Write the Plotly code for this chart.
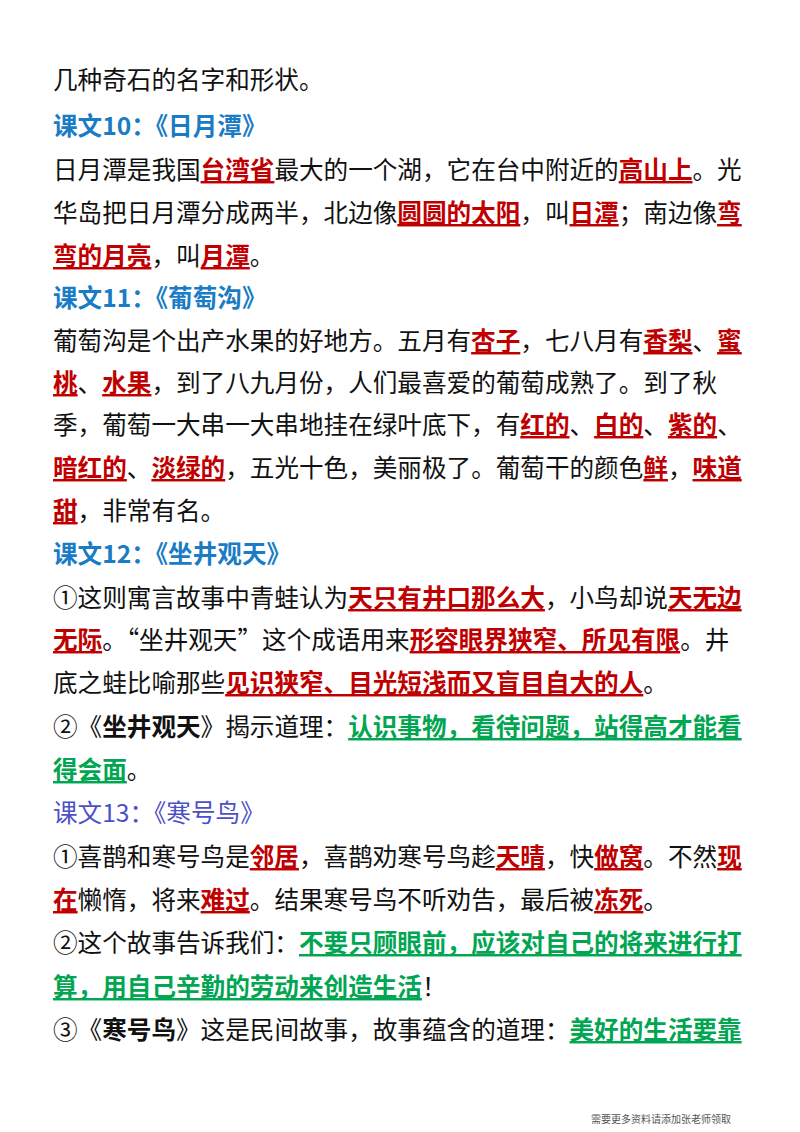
import re
import plotly.graph_objects as go

# Text lines ({...} red key words, [...] green key sentences, <b> bold black)
lines = [
    "几种奇石的名字和形状。",
    "课文10：《日月潭》",
    "日月潭是我国{台湾省}最大的一个湖，它在台中附近的{高山上}。光",
    "华岛把日月潭分成两半，北边像{圆圆的太阳}，叫{日潭}；南边像{弯",
    "弯的月亮}，叫{月潭}。",
    "课文11：《葡萄沟》",
    "葡萄沟是个出产水果的好地方。五月有{杏子}，七八月有{香梨}、{蜜",
    "桃}、{水果}，到了八九月份，人们最喜爱的葡萄成熟了。到了秋",
    "季，葡萄一大串一大串地挂在绿叶底下，有{红的}、{白的}、{紫的}、",
    "{暗红的}、{淡绿的}，五光十色，美丽极了。葡萄干的颜色{鲜}，{味道",
    "甜}，非常有名。",
    "课文12：《坐井观天》",
    "①这则寓言故事中青蛙认为{天只有井口那么大}，小鸟却说{天无边",
    "无际}。“坐井观天”这个成语用来{形容眼界狭窄、所见有限}。井",
    "底之蛙比喻那些{见识狭窄、目光短浅而又盲目自大的人}。",
    "②《<b>坐井观天</b>》揭示道理：[认识事物，看待问题，站得高才能看",
    "得会面]。",
    "课文13：《寒号鸟》",
    "①喜鹊和寒号鸟是{邻居}，喜鹊劝寒号鸟趁{天晴}，快{做窝}。不然{现",
    "在}懒惰，将来{难过}。结果寒号鸟不听劝告，最后被{冻死}。",
    "②这个故事告诉我们：[不要只顾眼前，应该对自己的将来进行打",
    "算，用自己辛勤的劳动来创造生活]！",
    "③《<b>寒号鸟</b>》这是民间故事，故事蕴含的道理：[美好的生活要靠",
]
line_y = [70, 116, 160, 203, 246, 288, 331, 373, 415, 458, 501, 544,
          588, 630, 673, 717, 760, 803, 847, 890, 933, 977, 1020]
headings = {1: "#1a7cc4", 5: "#1a7cc4", 11: "#1a7cc4", 17: "#4b4fc8"}
footer = "需要更多资料请添加张老师领取"

RED = "#c00000"
GREEN = "#00a651"

def fix_unclosed(s):
    if s.count("{") > s.count("}"):
        s = s + "}"
    if s.count("}") > s.count("{"):
        s = "{" + s
    if s.count("[") > s.count("]"):
        s = s + "]"
    if s.count("]") > s.count("["):
        s = "[" + s
    return s

def markup(s):
    s = fix_unclosed(s)
    s = re.sub(r"\{([^}]*)\}",
               lambda m: f"<span style='color:{RED};text-decoration:underline'><b>{m.group(1)}</b></span>", s)
    s = re.sub(r"\[([^\]]*)\]",
               lambda m: f"<span style='color:{GREEN};text-decoration:underline'><b>{m.group(1)}</b></span>", s)
    return s

fig = go.Figure()
anns = []
for i, (t, y) in enumerate(zip(lines, line_y)):
    if i in headings:
        txt = f"<b>{t}</b>" if i != 17 else t
        color = headings[i]
    else:
        txt = markup(t)
        color = "#111111"
    anns.append(dict(x=43, y=y, xref="x", yref="y", text=txt, showarrow=False,
                     xanchor="left", yanchor="middle",
                     font=dict(family="Noto Sans CJK SC", size=24.6, color=color)))
anns.append(dict(x=725, y=1110, xref="x", yref="y", text=footer, showarrow=False,
                 xanchor="right", yanchor="middle",
                 font=dict(family="Noto Sans CJK SC", size=10, color="#555555")))
fig.update_layout(
    width=800, height=1132, margin=dict(l=0, r=0, t=0, b=0),
    paper_bgcolor="white", plot_bgcolor="white",
    xaxis=dict(range=[0, 800], visible=False, fixedrange=True),
    yaxis=dict(range=[1132, 0], visible=False, fixedrange=True),
    annotations=anns, showlegend=False,
)
fig.write_html("out.html")
